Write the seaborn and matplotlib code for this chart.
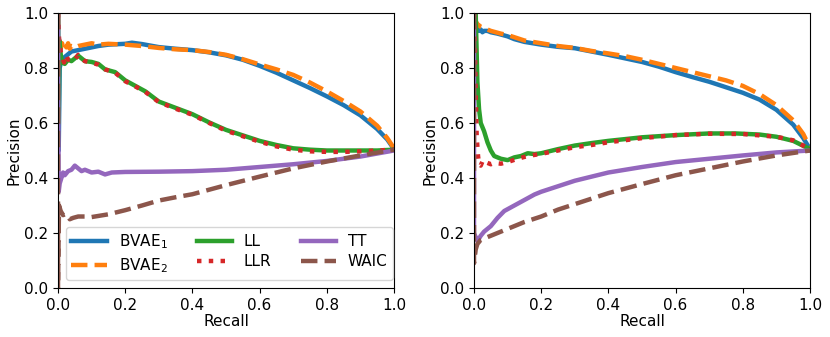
import matplotlib
matplotlib.use("Agg")
import matplotlib.pyplot as plt
import seaborn as sns

# ---------------- data ----------------
# Left panel
L_bvae1_r = [0, 0.002, 0.005, 0.01, 0.02, 0.03, 0.04, 0.06, 0.08, 0.1, 0.12, 0.15, 0.2, 0.22, 0.25, 0.3, 0.35, 0.4, 0.45, 0.5, 0.55, 0.6, 0.65, 0.7, 0.75, 0.8, 0.85, 0.9, 0.95, 0.98, 1.0]
L_bvae1_p = [1.0, 0.5, 0.80, 0.83, 0.84, 0.85, 0.86, 0.865, 0.87, 0.875, 0.88, 0.885, 0.888, 0.892, 0.887, 0.876, 0.87, 0.865, 0.857, 0.846, 0.83, 0.808, 0.783, 0.755, 0.727, 0.697, 0.665, 0.628, 0.578, 0.54, 0.505]

L_bvae2_r = [0, 0.002, 0.005, 0.008, 0.012, 0.016, 0.02, 0.025, 0.03, 0.035, 0.04, 0.05, 0.06, 0.08, 0.1, 0.12, 0.15, 0.2, 0.25, 0.3, 0.35, 0.4, 0.45, 0.5, 0.55, 0.6, 0.65, 0.7, 0.75, 0.8, 0.85, 0.9, 0.95, 0.98, 1.0]
L_bvae2_p = [1.0, 0.78, 0.90, 0.87, 0.89, 0.87, 0.885, 0.875, 0.89, 0.87, 0.88, 0.875, 0.88, 0.885, 0.89, 0.885, 0.888, 0.885, 0.88, 0.873, 0.868, 0.865, 0.858, 0.848, 0.832, 0.813, 0.795, 0.775, 0.747, 0.715, 0.68, 0.642, 0.59, 0.545, 0.508]

L_ll_r = [0, 0.002, 0.004, 0.008, 0.012, 0.02, 0.03, 0.04, 0.05, 0.06, 0.07, 0.08, 0.1, 0.12, 0.14, 0.17, 0.2, 0.23, 0.26, 0.3, 0.35, 0.4, 0.45, 0.5, 0.55, 0.6, 0.65, 0.7, 0.75, 0.8, 0.85, 0.9, 0.95, 1.0]
L_ll_p = [1.0, 0.6, 0.90, 0.85, 0.82, 0.815, 0.83, 0.825, 0.835, 0.845, 0.835, 0.825, 0.822, 0.815, 0.795, 0.785, 0.755, 0.735, 0.715, 0.678, 0.655, 0.632, 0.602, 0.575, 0.555, 0.535, 0.52, 0.508, 0.503, 0.50, 0.50, 0.50, 0.50, 0.503]

L_llr_r = [0, 0.003, 0.008, 0.012, 0.018, 0.025, 0.03, 0.04, 0.05, 0.06, 0.07, 0.08, 0.1, 0.12, 0.14, 0.17, 0.2, 0.23, 0.26, 0.3, 0.35, 0.4, 0.45, 0.5, 0.55, 0.6, 0.65, 0.7, 0.75, 0.8, 0.85, 0.9, 0.95, 1.0]
L_llr_p = [1.0, 0.91, 0.86, 0.84, 0.82, 0.845, 0.83, 0.835, 0.83, 0.848, 0.835, 0.825, 0.82, 0.812, 0.795, 0.783, 0.752, 0.733, 0.713, 0.676, 0.652, 0.63, 0.60, 0.572, 0.552, 0.532, 0.515, 0.503, 0.497, 0.495, 0.495, 0.497, 0.50, 0.503]

L_tt_r = [0, 0.002, 0.005, 0.01, 0.015, 0.02, 0.03, 0.04, 0.05, 0.06, 0.07, 0.08, 0.1, 0.12, 0.14, 0.16, 0.2, 0.3, 0.4, 0.5, 0.6, 0.7, 0.8, 0.9, 1.0]
L_tt_p = [1.0, 0.35, 0.38, 0.40, 0.42, 0.41, 0.425, 0.43, 0.445, 0.435, 0.425, 0.43, 0.42, 0.423, 0.413, 0.42, 0.422, 0.423, 0.425, 0.43, 0.44, 0.45, 0.462, 0.478, 0.50]

L_waic_r = [0, 0, 0.003, 0.008, 0.015, 0.025, 0.035, 0.045, 0.06, 0.08, 0.1, 0.12, 0.15, 0.2, 0.25, 0.3, 0.35, 0.4, 0.5, 0.6, 0.7, 0.8, 0.9, 1.0]
L_waic_p = [1.0, 0.0, 0.30, 0.28, 0.265, 0.27, 0.25, 0.255, 0.26, 0.26, 0.258, 0.262, 0.268, 0.283, 0.30, 0.318, 0.33, 0.341, 0.374, 0.405, 0.435, 0.46, 0.482, 0.503]

# Right panel
R_bvae1_r = [0, 0.005, 0.01, 0.015, 0.02, 0.025, 0.03, 0.04, 0.05, 0.07, 0.1, 0.12, 0.15, 0.2, 0.25, 0.3, 0.35, 0.4, 0.45, 0.5, 0.55, 0.6, 0.65, 0.7, 0.75, 0.8, 0.85, 0.9, 0.95, 0.98, 1.0]
R_bvae1_p = [1.0, 0.95, 0.94, 0.935, 0.94, 0.93, 0.935, 0.935, 0.93, 0.925, 0.915, 0.905, 0.895, 0.885, 0.877, 0.872, 0.86, 0.848, 0.835, 0.822, 0.805, 0.785, 0.767, 0.75, 0.73, 0.71, 0.685, 0.648, 0.594, 0.545, 0.505]

R_bvae2_r = [0, 0.005, 0.01, 0.02, 0.03, 0.05, 0.08, 0.1, 0.15, 0.2, 0.25, 0.3, 0.35, 0.4, 0.45, 0.5, 0.55, 0.6, 0.65, 0.7, 0.75, 0.8, 0.85, 0.9, 0.95, 0.98, 1.0]
R_bvae2_p = [1.0, 0.97, 0.96, 0.95, 0.945, 0.935, 0.925, 0.92, 0.90, 0.89, 0.88, 0.873, 0.862, 0.853, 0.843, 0.83, 0.815, 0.80, 0.785, 0.77, 0.755, 0.735, 0.705, 0.665, 0.61, 0.56, 0.51]

R_ll_r = [0, 0.005, 0.008, 0.01, 0.015, 0.02, 0.03, 0.04, 0.05, 0.06, 0.08, 0.1, 0.12, 0.14, 0.16, 0.18, 0.2, 0.25, 0.3, 0.35, 0.4, 0.5, 0.6, 0.7, 0.78, 0.85, 0.9, 0.95, 1.0]
R_ll_p = [1.0, 1.0, 0.85, 0.75, 0.65, 0.60, 0.57, 0.53, 0.50, 0.48, 0.47, 0.465, 0.475, 0.48, 0.49, 0.487, 0.49, 0.505, 0.518, 0.527, 0.535, 0.548, 0.556, 0.562, 0.562, 0.558, 0.55, 0.535, 0.505]

R_llr_r = [0, 0.003, 0.005, 0.008, 0.012, 0.015, 0.02, 0.025, 0.03, 0.04, 0.05, 0.06, 0.08, 0.1, 0.13, 0.16, 0.2, 0.25, 0.3, 0.35, 0.4, 0.5, 0.6, 0.7, 0.8, 0.9, 0.95, 1.0]
R_llr_p = [1.0, 0.85, 0.70, 0.55, 0.48, 0.45, 0.445, 0.46, 0.45, 0.455, 0.45, 0.455, 0.452, 0.458, 0.47, 0.48, 0.488, 0.50, 0.512, 0.52, 0.53, 0.545, 0.556, 0.561, 0.56, 0.55, 0.537, 0.505]

R_tt_r = [0, 0, 0.005, 0.01, 0.02, 0.03, 0.05, 0.07, 0.09, 0.12, 0.15, 0.18, 0.2, 0.25, 0.3, 0.35, 0.4, 0.5, 0.6, 0.7, 0.8, 0.9, 1.0]
R_tt_p = [1.0, 0.2, 0.185, 0.17, 0.19, 0.205, 0.225, 0.255, 0.28, 0.30, 0.32, 0.34, 0.35, 0.37, 0.39, 0.405, 0.42, 0.44, 0.458, 0.47, 0.482, 0.493, 0.50]

R_waic_r = [0, 0, 0.005, 0.01, 0.02, 0.04, 0.06, 0.1, 0.15, 0.2, 0.25, 0.3, 0.35, 0.4, 0.5, 0.6, 0.7, 0.8, 0.9, 1.0]
R_waic_p = [1.0, 0.09, 0.14, 0.16, 0.175, 0.185, 0.195, 0.215, 0.24, 0.26, 0.285, 0.305, 0.325, 0.345, 0.378, 0.41, 0.435, 0.46, 0.482, 0.50]

labels = ["BVAE$_1$", "BVAE$_2$", "LL", "LLR", "TT", "WAIC"]
tick_values = [0.0, 0.2, 0.4, 0.6, 0.8, 1.0]

# ---------------- styling ----------------
palette = sns.color_palette("tab10")
colors = [palette[0], palette[1], palette[2], palette[3], palette[4], palette[5]]
styles = ["-", "--", "-", ":", "-", "--"]

plt.rcParams["font.family"] = ["DejaVu Sans"]
FS = 11
plt.rcParams["font.size"] = FS

fig = plt.figure(figsize=(8.3, 3.37), dpi=100)
ax_l = fig.add_axes([0.0699, 0.1454, 0.4048, 0.816])
ax_r = fig.add_axes([0.5711, 0.1454, 0.4048, 0.816])

left = [(L_bvae1_r, L_bvae1_p), (L_bvae2_r, L_bvae2_p), (L_ll_r, L_ll_p),
        (L_llr_r, L_llr_p), (L_tt_r, L_tt_p), (L_waic_r, L_waic_p)]
right = [(R_bvae1_r, R_bvae1_p), (R_bvae2_r, R_bvae2_p), (R_ll_r, R_ll_p),
         (R_llr_r, R_llr_p), (R_tt_r, R_tt_p), (R_waic_r, R_waic_p)]

for ax, curves, with_label in [(ax_l, left, True), (ax_r, right, False)]:
    for i, (r, p) in enumerate(curves):
        sns.lineplot(x=r, y=p, ax=ax, color=colors[i], linestyle=styles[i],
                     linewidth=3.2, sort=False, estimator=None,
                     label=labels[i] if with_label else None,
                     legend=with_label)
    ax.set_xlim(0, 1)
    ax.set_ylim(0, 1)
    ax.set_xticks(tick_values)
    ax.set_yticks(tick_values)
    ax.set_xlabel("Recall", fontsize=FS, labelpad=1)
    ax.set_ylabel("Precision", fontsize=FS, labelpad=2)
    ax.tick_params(labelsize=FS)

handles, lbls = ax_l.get_legend_handles_labels()
ax_l.legend(handles, lbls, ncol=3, loc="lower left", fontsize=FS,
            bbox_to_anchor=(0.024, 0.029, 0.973, 0.182), mode="expand",
            borderaxespad=0.0, handlelength=2.3, labelspacing=0.35,
            borderpad=0.35)

fig.savefig("out.png", dpi=100)
